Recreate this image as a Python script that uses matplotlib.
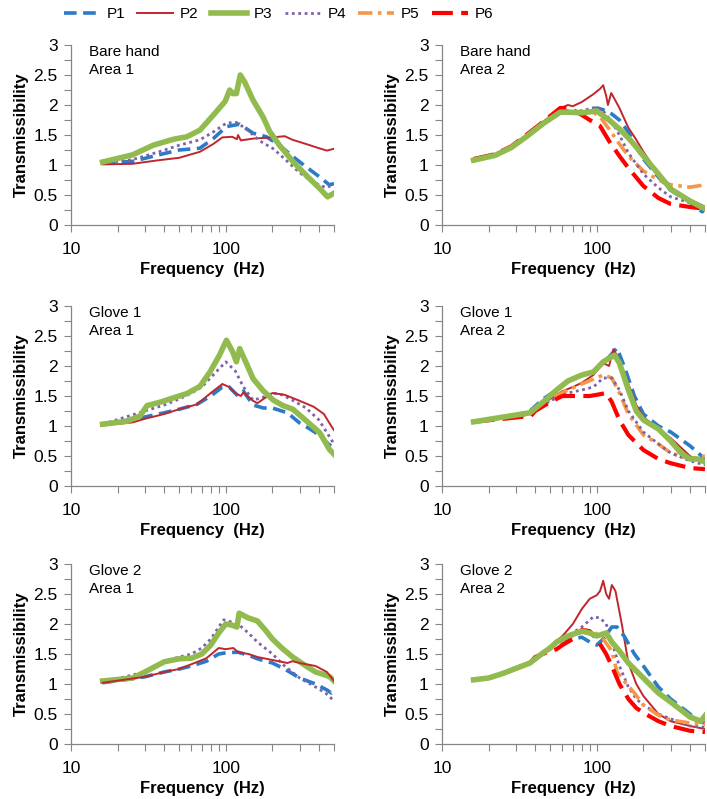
import matplotlib
matplotlib.use("Agg")
import matplotlib.pyplot as plt
from matplotlib.ticker import FixedLocator, NullFormatter, LogLocator

plt.rcParams['font.family'] = ['Liberation Sans', 'DejaVu Sans']

# ---- data (frequency in Hz, transmissibility) ----
# Bare hand, Area 1
bh1_p1_f = [16, 25, 37, 50, 68, 83, 101, 123, 150, 183, 222, 271, 330, 404, 466, 500]
bh1_p1_t = [1.03, 1.06, 1.17, 1.25, 1.28, 1.44, 1.64, 1.68, 1.53, 1.47, 1.33, 1.14, 0.97, 0.80, 0.67, 0.69]
bh1_p2_f = [16, 25, 37, 50, 68, 83, 95, 110, 118, 120, 125, 150, 200, 240, 270, 330, 400, 450, 500]
bh1_p2_t = [1.01, 1.02, 1.08, 1.12, 1.22, 1.35, 1.46, 1.47, 1.43, 1.50, 1.41, 1.44, 1.46, 1.48, 1.42, 1.35, 1.28, 1.24, 1.27]
bh1_p3_f = [16, 25, 34, 46, 56, 68, 83, 99, 106, 111, 117, 124, 132, 150, 174, 192, 222, 271, 330, 404, 454, 500]
bh1_p3_t = [1.05, 1.17, 1.33, 1.43, 1.47, 1.58, 1.83, 2.06, 2.25, 2.19, 2.19, 2.50, 2.39, 2.08, 1.80, 1.56, 1.33, 1.06, 0.83, 0.61, 0.47, 0.53]
bh1_p4_f = [16, 25, 37, 50, 68, 83, 101, 117, 136, 166, 203, 245, 300, 363, 445, 500]
bh1_p4_t = [1.03, 1.09, 1.22, 1.33, 1.42, 1.55, 1.70, 1.71, 1.60, 1.40, 1.27, 1.08, 0.87, 0.72, 0.62, 0.68]

# Bare hand, Area 2
bh2_p1_f = [16, 22, 28, 35, 45, 58, 65, 75, 90, 100, 110, 125, 140, 160, 180, 200, 250, 300, 400, 480, 500]
bh2_p1_t = [1.09, 1.17, 1.30, 1.48, 1.70, 1.90, 1.90, 1.86, 1.90, 1.95, 1.92, 1.85, 1.75, 1.55, 1.30, 1.10, 0.80, 0.58, 0.38, 0.22, 0.28]
bh2_p2_f = [16, 22, 28, 35, 45, 55, 60, 65, 70, 80, 95, 105, 110, 115, 118, 124, 140, 160, 180, 200, 250, 300, 400, 480, 500]
bh2_p2_t = [1.10, 1.18, 1.30, 1.50, 1.72, 1.90, 1.96, 2.00, 1.98, 2.05, 2.18, 2.27, 2.33, 2.15, 2.00, 2.20, 1.95, 1.62, 1.42, 1.22, 0.85, 0.62, 0.42, 0.33, 0.30]
bh2_p3_f = [16, 22, 28, 35, 45, 58, 65, 80, 100, 110, 120, 140, 160, 180, 200, 250, 300, 400, 500]
bh2_p3_t = [1.08, 1.16, 1.29, 1.47, 1.69, 1.88, 1.88, 1.87, 1.90, 1.82, 1.75, 1.60, 1.45, 1.30, 1.15, 0.85, 0.60, 0.40, 0.27]
bh2_p4_f = [16, 22, 28, 35, 45, 55, 60, 70, 85, 100, 110, 125, 140, 160, 200, 250, 300, 400, 500]
bh2_p4_t = [1.09, 1.17, 1.30, 1.48, 1.70, 1.85, 1.93, 1.88, 1.92, 1.97, 1.90, 1.72, 1.50, 1.20, 0.85, 0.62, 0.47, 0.37, 0.28]
bh2_p5_f = [16, 22, 28, 35, 45, 58, 70, 85, 95, 105, 120, 140, 160, 200, 250, 300, 400, 500]
bh2_p5_t = [1.09, 1.17, 1.30, 1.49, 1.71, 1.92, 1.87, 1.88, 1.88, 1.80, 1.60, 1.35, 1.15, 0.90, 0.75, 0.67, 0.63, 0.67]
bh2_p6_f = [16, 22, 28, 35, 45, 58, 65, 75, 90, 105, 120, 140, 160, 200, 250, 300, 400, 500]
bh2_p6_t = [1.10, 1.18, 1.31, 1.50, 1.72, 1.95, 1.95, 1.88, 1.75, 1.65, 1.40, 1.15, 0.95, 0.65, 0.45, 0.35, 0.30, 0.27]

# Glove 1, Area 1
g1a1_p1_f = [16, 30, 40, 50, 65, 80, 95, 105, 120, 130, 150, 175, 200, 250, 300, 350, 400, 460, 500]
g1a1_p1_t = [1.02, 1.15, 1.22, 1.28, 1.36, 1.50, 1.65, 1.65, 1.50, 1.58, 1.35, 1.30, 1.30, 1.22, 1.05, 0.95, 0.85, 0.70, 0.63]
g1a1_p2_f = [16, 25, 30, 40, 50, 65, 80, 95, 105, 115, 125, 130, 150, 160, 175, 200, 240, 300, 370, 430, 480, 500]
g1a1_p2_t = [1.01, 1.06, 1.12, 1.20, 1.28, 1.36, 1.55, 1.70, 1.65, 1.55, 1.50, 1.56, 1.42, 1.38, 1.45, 1.55, 1.52, 1.42, 1.32, 1.20, 1.00, 0.93]
g1a1_p3_f = [16, 23, 28, 31, 38, 46, 56, 68, 79, 91, 101, 111, 117, 123, 136, 150, 174, 203, 234, 271, 330, 404, 467, 500]
g1a1_p3_t = [1.03, 1.08, 1.17, 1.34, 1.40, 1.47, 1.54, 1.66, 1.90, 2.18, 2.43, 2.23, 2.07, 2.29, 2.04, 1.79, 1.59, 1.43, 1.34, 1.28, 1.09, 0.89, 0.61, 0.53]
g1a1_p4_f = [16, 30, 40, 50, 60, 70, 85, 100, 115, 130, 150, 175, 200, 230, 270, 330, 400, 460, 500]
g1a1_p4_t = [1.03, 1.25, 1.35, 1.45, 1.55, 1.65, 1.88, 2.07, 1.92, 1.65, 1.43, 1.48, 1.55, 1.52, 1.43, 1.30, 1.10, 0.85, 0.70]

# Glove 1, Area 2
g1a2_p1_f = [16, 30, 37, 45, 55, 65, 80, 95, 110, 125, 135, 150, 175, 200, 250, 300, 400, 500]
g1a2_p1_t = [1.07, 1.17, 1.25, 1.45, 1.60, 1.75, 1.85, 1.90, 2.05, 2.20, 2.30, 2.00, 1.50, 1.20, 1.00, 0.90, 0.67, 0.45]
g1a2_p2_f = [16, 37, 50, 60, 70, 80, 95, 110, 120, 128, 140, 160, 180, 200, 250, 300, 400, 500]
g1a2_p2_t = [1.07, 1.20, 1.45, 1.58, 1.65, 1.72, 1.85, 2.05, 2.00, 2.28, 2.10, 1.70, 1.35, 1.15, 0.95, 0.80, 0.50, 0.37]
g1a2_p3_f = [16, 37, 45, 55, 65, 80, 95, 110, 130, 140, 160, 180, 200, 250, 300, 350, 400, 450, 500]
g1a2_p3_t = [1.07, 1.22, 1.40, 1.60, 1.75, 1.85, 1.90, 2.07, 2.18, 2.05, 1.60, 1.25, 1.10, 0.95, 0.75, 0.55, 0.45, 0.45, 0.40]
g1a2_p4_f = [16, 37, 50, 65, 80, 95, 110, 125, 140, 160, 200, 250, 300, 400, 500]
g1a2_p4_t = [1.07, 1.20, 1.42, 1.55, 1.60, 1.65, 1.80, 1.80, 1.60, 1.25, 0.90, 0.70, 0.55, 0.42, 0.35]
g1a2_p5_f = [16, 37, 50, 65, 80, 95, 110, 125, 140, 160, 200, 250, 300, 400, 500]
g1a2_p5_t = [1.07, 1.20, 1.45, 1.60, 1.70, 1.78, 1.85, 1.80, 1.55, 1.20, 0.85, 0.70, 0.55, 0.45, 0.50]
g1a2_p6_f = [16, 25, 35, 37, 40, 50, 60, 70, 80, 90, 100, 115, 125, 140, 160, 200, 250, 300, 400, 500]
g1a2_p6_t = [1.07, 1.12, 1.16, 1.15, 1.25, 1.40, 1.50, 1.50, 1.50, 1.50, 1.52, 1.55, 1.40, 1.10, 0.85, 0.60, 0.45, 0.38, 0.30, 0.28]

# Glove 2, Area 1
g2a1_p1_f = [16, 30, 40, 50, 60, 75, 90, 100, 120, 140, 160, 200, 240, 300, 380, 450, 480, 500]
g2a1_p1_t = [1.02, 1.12, 1.20, 1.25, 1.30, 1.38, 1.50, 1.52, 1.53, 1.48, 1.42, 1.35, 1.25, 1.10, 1.00, 0.90, 0.85, 0.90]
g2a1_p2_f = [16, 30, 40, 50, 60, 75, 90, 100, 112, 120, 140, 160, 200, 250, 270, 300, 380, 450, 500]
g2a1_p2_t = [1.02, 1.12, 1.20, 1.25, 1.33, 1.43, 1.60, 1.58, 1.60, 1.53, 1.50, 1.45, 1.40, 1.35, 1.38, 1.35, 1.30, 1.20, 1.05]
g2a1_p3_f = [16, 25, 30, 40, 50, 60, 70, 80, 90, 100, 110, 118, 122, 140, 160, 180, 200, 230, 270, 330, 380, 440, 470, 500]
g2a1_p3_t = [1.05, 1.10, 1.20, 1.37, 1.42, 1.43, 1.50, 1.65, 1.85, 2.00, 1.98, 1.95, 2.18, 2.10, 2.05, 1.90, 1.75, 1.60, 1.45, 1.30, 1.20, 1.15, 1.12, 1.05]
g2a1_p4_f = [16, 30, 40, 50, 60, 70, 80, 90, 97, 110, 120, 140, 160, 200, 240, 300, 380, 440, 500]
g2a1_p4_t = [1.03, 1.20, 1.38, 1.45, 1.50, 1.60, 1.75, 1.95, 2.07, 2.03, 2.00, 1.85, 1.70, 1.50, 1.30, 1.10, 0.95, 0.85, 0.72]

# Glove 2, Area 2
g2a2_p1_f = [16, 20, 25, 30, 37, 45, 50, 60, 70, 80, 90, 100, 110, 125, 135, 150, 175, 200, 250, 300, 400, 450, 500]
g2a2_p1_t = [1.07, 1.10, 1.18, 1.26, 1.35, 1.52, 1.62, 1.72, 1.75, 1.78, 1.70, 1.65, 1.75, 1.95, 1.95, 1.80, 1.50, 1.30, 0.95, 0.75, 0.50, 0.38, 0.35]
g2a2_p2_f = [16, 20, 25, 30, 37, 45, 50, 55, 60, 70, 80, 90, 100, 105, 110, 115, 120, 125, 132, 145, 160, 180, 200, 250, 300, 400, 500]
g2a2_p2_t = [1.07, 1.10, 1.18, 1.26, 1.35, 1.52, 1.60, 1.72, 1.80, 2.00, 2.25, 2.42, 2.48, 2.55, 2.72, 2.50, 2.42, 2.65, 2.55, 2.00, 1.35, 1.00, 0.80, 0.50, 0.38, 0.30, 0.25]
g2a2_p3_f = [16, 20, 25, 30, 37, 45, 50, 55, 65, 80, 90, 100, 115, 125, 140, 160, 200, 250, 300, 400, 470, 500]
g2a2_p3_t = [1.07, 1.10, 1.18, 1.26, 1.35, 1.52, 1.60, 1.70, 1.80, 1.88, 1.85, 1.80, 1.85, 1.70, 1.55, 1.35, 1.10, 0.85, 0.70, 0.45, 0.38, 0.47]
g2a2_p4_f = [16, 20, 25, 30, 37, 45, 50, 55, 65, 80, 95, 105, 115, 125, 140, 160, 180, 200, 250, 300, 400, 500]
g2a2_p4_t = [1.07, 1.10, 1.18, 1.26, 1.35, 1.52, 1.60, 1.70, 1.80, 1.95, 2.12, 2.10, 2.00, 1.70, 1.30, 0.95, 0.75, 0.65, 0.50, 0.42, 0.30, 0.28]
g2a2_p5_f = [16, 20, 25, 30, 37, 45, 50, 55, 65, 80, 95, 110, 125, 135, 150, 175, 200, 250, 300, 400, 500]
g2a2_p5_t = [1.07, 1.10, 1.18, 1.26, 1.35, 1.52, 1.60, 1.70, 1.75, 1.90, 1.88, 1.75, 1.55, 1.20, 1.05, 0.85, 0.65, 0.48, 0.40, 0.35, 0.33]
g2a2_p6_f = [16, 20, 25, 30, 37, 40, 50, 55, 60, 70, 80, 90, 100, 115, 125, 140, 160, 180, 200, 250, 300, 400, 500]
g2a2_p6_t = [1.07, 1.10, 1.18, 1.26, 1.35, 1.45, 1.55, 1.58, 1.65, 1.75, 1.90, 1.88, 1.75, 1.50, 1.30, 1.00, 0.75, 0.60, 0.52, 0.38, 0.30, 0.22, 0.20]

labels = ["P1", "P2", "P3", "P4", "P5", "P6"]
titles = ["Bare hand\nArea 1", "Bare hand\nArea 2",
          "Glove 1\nArea 1", "Glove 1\nArea 2",
          "Glove 2\nArea 1", "Glove 2\nArea 2"]

panels = [
    [(0, bh1_p1_f, bh1_p1_t), (1, bh1_p2_f, bh1_p2_t), (3, bh1_p4_f, bh1_p4_t), (2, bh1_p3_f, bh1_p3_t)],
    [(1, bh2_p2_f, bh2_p2_t), (0, bh2_p1_f, bh2_p1_t), (4, bh2_p5_f, bh2_p5_t), (3, bh2_p4_f, bh2_p4_t),
     (5, bh2_p6_f, bh2_p6_t), (2, bh2_p3_f, bh2_p3_t)],
    [(0, g1a1_p1_f, g1a1_p1_t), (3, g1a1_p4_f, g1a1_p4_t), (1, g1a1_p2_f, g1a1_p2_t), (2, g1a1_p3_f, g1a1_p3_t)],
    [(0, g1a2_p1_f, g1a2_p1_t), (1, g1a2_p2_f, g1a2_p2_t), (4, g1a2_p5_f, g1a2_p5_t), (3, g1a2_p4_f, g1a2_p4_t),
     (5, g1a2_p6_f, g1a2_p6_t), (2, g1a2_p3_f, g1a2_p3_t)],
    [(0, g2a1_p1_f, g2a1_p1_t), (3, g2a1_p4_f, g2a1_p4_t), (2, g2a1_p3_f, g2a1_p3_t), (1, g2a1_p2_f, g2a1_p2_t)],
    [(1, g2a2_p2_f, g2a2_p2_t), (0, g2a2_p1_f, g2a2_p1_t), (3, g2a2_p4_f, g2a2_p4_t), (4, g2a2_p5_f, g2a2_p5_t),
     (5, g2a2_p6_f, g2a2_p6_t), (2, g2a2_p3_f, g2a2_p3_t)],
]

# line styles per sensor position
styles = [
    dict(color='#2B7BC6', lw=2.6, dashes=(3.5, 1.8), solid_capstyle='butt', dash_capstyle='butt'),
    dict(color='#C0262C', lw=1.4),
    dict(color='#92BB4F', lw=4.0),
    dict(color='#7E62A8', lw=2.0, dashes=(1, 1.3)),
    dict(color='#F79646', lw=2.6, dashes=(4, 1.5, 1, 1.5), dash_capstyle='butt'),
    dict(color='#FF0000', lw=3.0, dashes=(5, 2), dash_capstyle='butt'),
]

fig = plt.figure(figsize=(7.07, 7.99), dpi=100)
W, H = 707, 799
cols_x = [71, 442]
rows_top = [45, 306, 564]
ax_w, ax_h = 263, 180

for i in range(6):
    r, c = divmod(i, 2)
    ax = fig.add_axes([cols_x[c] / W, 1 - (rows_top[r] + ax_h) / H, ax_w / W, ax_h / H])
    for k, f, t in panels[i]:
        ax.plot(f, t, label=labels[k], **styles[k])
    ax.set_xscale('log')
    ax.set_xlim(10, 500)
    ax.set_ylim(0, 3)
    ax.set_xticks([10, 100])
    ax.set_xticklabels(['10', '100'])
    ax.xaxis.set_minor_locator(LogLocator(base=10, subs=range(2, 10)))
    ax.xaxis.set_minor_formatter(NullFormatter())
    ax.set_yticks([0, 0.5, 1, 1.5, 2, 2.5, 3])
    ax.set_yticklabels(['0', '0.5', '1', '1.5', '2', '2.5', '3'])
    ax.yaxis.set_minor_locator(FixedLocator([0.25, 0.75, 1.25, 1.75, 2.25, 2.75]))
    for s in ['top', 'right']:
        ax.spines[s].set_visible(False)
    for s in ['left', 'bottom']:
        ax.spines[s].set_color('#868686')
        ax.spines[s].set_linewidth(0.9)
    ax.tick_params(which='both', direction='out', length=5, width=0.8, color='#868686',
                   labelsize=12.5)
    ax.tick_params(axis='x', which='both', pad=7.5)
    ax.tick_params(axis='y', which='both', pad=4.5)
    ax.set_xlabel("Frequency  (Hz)", fontsize=12, fontweight='bold', labelpad=3.5)
    ax.set_ylabel("Transmissibility", fontsize=12, fontweight='bold', labelpad=3)
    ax.text(0.07, 1.0, titles[i], transform=ax.transAxes, ha='left', va='top',
            fontsize=11, linespacing=1.35)

handles = []
for k in range(6):
    h, = plt.plot([], [], **styles[k])
    handles.append(h)
fig.legend(handles, labels, loc='center', bbox_to_anchor=(0.394, 0.982), ncol=6,
           frameon=False, fontsize=11, handlelength=2.35, handletextpad=0.45,
           columnspacing=0.8)

fig.savefig('out.png', dpi=100)
